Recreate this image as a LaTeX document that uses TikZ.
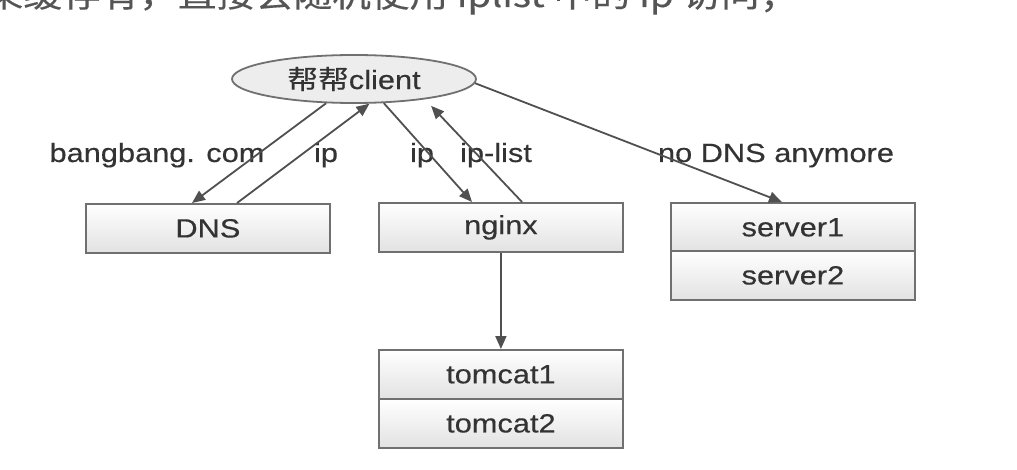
\documentclass[tikz,border=0pt]{standalone}
\usepackage{fontspec}
\setmainfont{Liberation Sans}[FakeStretch=1.17,FakeBold=0.35]
\newfontfamily\cjk{Noto Sans CJK SC}[FakeStretch=1.17,FakeBold=0.35]
\usetikzlibrary{arrows.meta,shapes.geometric,calc}
\definecolor{linegray}{HTML}{505050}
\definecolor{boxgray}{HTML}{707070}
\definecolor{boxfill}{HTML}{E2E2E2}
\definecolor{ellfill}{HTML}{EDEDED}
\definecolor{txtgray}{HTML}{333333}
\definecolor{toptxt}{HTML}{555555}
\tikzset{
  lbl/.style={font=\fontsize{26.3}{30}\selectfont, text=txtgray, inner sep=0pt, anchor=base},
  stackbox/.style={draw=boxgray, line width=1.8pt, top color=white, bottom color=boxfill,
    minimum width=244pt, minimum height=49pt, inner sep=0pt, anchor=north west,
    font=\fontsize{26.3}{30}\selectfont, text=txtgray},
  ellnode/.style={ellipse, draw=boxgray, line width=1.8pt, fill=ellfill,
    minimum width=244pt, minimum height=48pt, inner sep=0pt,
    font=\fontsize{26.3}{30}\selectfont, text=txtgray},
  conn/.style={draw=linegray, line width=1.8pt, -{Triangle[length=13pt,width=11pt]}}
}
\begin{document}
\begin{tikzpicture}[x=1pt,y=-1pt]
\useasboundingbox (0,0) rectangle (1017,470);
\fill[white] (0,0) rectangle (1017,470);
\begin{scope}
\clip (0,0) rectangle (1017,470);
\node[anchor=base west, inner sep=0pt, text=toptxt, font=\cjk\fontsize{33}{38}\selectfont] (toptext) at (-54,7) {如果缓存有，直接会随机使用 iplist 中的 ip 访问；};
\end{scope}

% nodes
\node[ellnode] (client) at (354,79) {{\cjk 帮帮}client};
\node[stackbox] (dns) at (85,203) {DNS};
\node[stackbox] (nginx) at (378,202) {nginx};
\node[stackbox] (server1) at (670,202) {server1};
\node[stackbox] (server2) at (670,250) {server2};
\node[stackbox] (tomcat1) at (378,349) {tomcat1};
\node[stackbox] (tomcat2) at (378,398) {tomcat2};

% labels
\node[lbl] (lbangbang) at (157,162) {bangbang. com};
\node[lbl] (lip1) at (326,162) {ip};
\node[lbl] (lip2) at (422,162) {ip};
\node[lbl] (liplist) at (496,162) {ip-list};
\node[lbl] (lnodns) at (776,162) {no DNS anymore};

% connectors
\draw[conn] (client.221) -- ($(dns.north west)+(107,0)$);
\draw[conn] ($(dns.north west)+(152,0)$) -- (client.302);
\draw[conn] (client.321) -- ($(nginx.north west)+(94,0)$);
\draw[conn, shorten >=9pt] ($(nginx.north west)+(144,0)$) -- (client.344);
\draw[conn] (client.358) -- ($(server1.north west)+(112,0)$);
\draw[conn] (nginx.south) -- (tomcat1.north);
\end{tikzpicture}
\end{document}
